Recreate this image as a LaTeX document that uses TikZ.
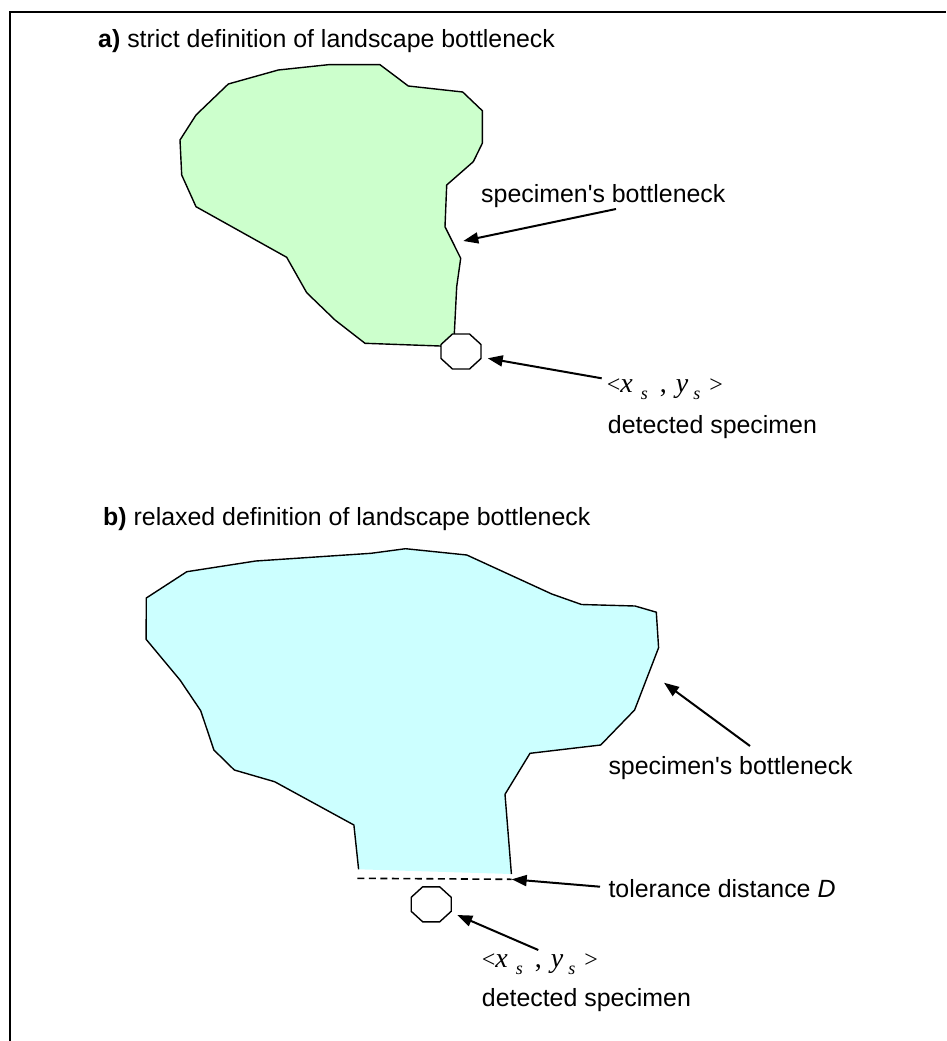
\documentclass[tikz,border=0pt]{standalone}
\usepackage{fontspec}
\setmainfont{Liberation Sans}
\newfontfamily\tnr{Liberation Serif}
\usetikzlibrary{arrows.meta}

\definecolor{areagreen}{RGB}{204,255,204}
\definecolor{areacyan}{RGB}{204,255,255}

\tikzset{
  lbl/.style={anchor=base west, inner sep=0pt, font=\fontsize{24.9pt}{30pt}\selectfont},
  outline/.style={line width=1.4pt, line join=miter},
  frameline/.style={line width=2pt},
  pointer/.style={line width=2pt, -{Triangle[length=15pt,width=11pt]}},
  octo/.pic={\draw[outline, fill=white] (-8.5,-17.5) -- (8.5,-17.5) -- (20,-7) -- (20,7)
               -- (8.5,17.5) -- (-8.5,17.5) -- (-20,7) -- (-20,-7) -- cycle;}
}

% position label <x_s , y_s> in Times
\newcommand\subs{\raisebox{-7pt}{\fontsize{18pt}{18pt}\selectfont\textit{s}}}
\newcommand\angl[1]{{\fontsize{24pt}{24pt}\selectfont #1}}
\newcommand\specpos{{\tnr\fontsize{28pt}{30pt}\selectfont
  \angl{\textless}\textit{x}\kern8pt\subs\kern12pt,\kern9pt\textit{y}\kern5pt\subs\kern9pt\angl{\textgreater}}}
\newcommand\bneck{specimen\textquotesingle s bottleneck}

\begin{document}
\begin{tikzpicture}[x=1pt,y=-1pt]
\useasboundingbox (0,0) rectangle (946,1041);

% open frame: top and left rules only
\draw[frameline] (9.5,1041) -- (9.5,12) -- (946,12);

% ---------- a) strict definition ----------
\node[lbl] (titleA) at (98,48) {\textbf{a)} strict definition of landscape bottleneck};

\filldraw[outline, fill=areagreen]
  (328.3,64.7) -- (380,64.7) -- (408.3,86) -- (462.7,92) -- (482.3,110.7) -- (482.3,143.3)
  -- (473.3,161.7) -- (446.7,185) -- (445,226.7) -- (460.7,258.3) -- (456.7,286.7)
  -- (454.3,334) -- (455,348) -- (440,346) -- (365,343.3) -- (335,320) -- (306.7,292.7)
  -- (286.7,257.3) -- (196,206.7) -- (181.7,175) -- (180,140) -- (196,115) -- (228.3,84)
  -- (278.3,70) -- cycle;

\pic at (461,351.5) {octo};
\coordinate (specA) at (487.7,358.3);
\coordinate (neckA) at (463.3,241);

\node[lbl] (neckLabelA) at (481,202) {\bneck};
\node[lbl] (posA) at (606.7,392.7) {\specpos};
\node[lbl] (detA) at (607.7,433) {detected specimen};

\coordinate (neckTailA) at (616,209);
\coordinate (specTailA) at (601.7,378.3);
\draw[pointer] (neckTailA) -- (neckA);
\draw[pointer] (specTailA) -- (specA);

% ---------- b) relaxed definition ----------
\node[lbl] (titleB) at (103,525) {\textbf{b)} relaxed definition of landscape bottleneck};

\fill[areacyan]
  (358.6,869.3) -- (353.9,825) -- (274.6,781.7) -- (234.3,770) -- (213.9,750) -- (200.7,710.7)
  -- (180,680) -- (146.1,639.3) -- (146.3,598) -- (186.8,571.7) -- (255.7,561) -- (371,553.3)
  -- (405.5,548.7) -- (466.8,555) -- (551.8,594) -- (581.5,604.5) -- (635,606) -- (656.3,612.2)
  -- (658.6,647.7) -- (634.6,710) -- (600.7,745) -- (530,753.3) -- (505,794.3) -- (511.4,874) -- cycle;
\draw[outline]
  (358.6,869.3) -- (353.9,825) -- (274.6,781.7) -- (234.3,770) -- (213.9,750) -- (200.7,710.7)
  -- (180,680) -- (146.1,639.3) -- (146.3,598) -- (186.8,571.7) -- (255.7,561) -- (371,553.3)
  -- (405.5,548.7) -- (466.8,555) -- (551.8,594) -- (581.5,604.5) -- (635,606) -- (656.3,612.2)
  -- (658.6,647.7) -- (634.6,710) -- (600.7,745) -- (530,753.3) -- (505,794.3) -- (511.4,874);

\coordinate (tolL) at (357.3,878.3);
\coordinate (tolR) at (511.7,879.3);
\draw[line width=1.6pt, dash pattern=on 7pt off 4.5pt] (tolL) -- (tolR);

\pic at (431.2,904.3) {octo};
\coordinate (specB) at (457.3,915);
\coordinate (neckB) at (664,682.7);

\node[lbl] (neckLabelB) at (608.3,774) {\bneck};
\node[lbl] (tolLabel) at (608.3,897) {tolerance distance \textit{D}};
\node[lbl] (posB) at (481.7,967) {\specpos};
\node[lbl] (detB) at (481.7,1006) {detected specimen};

\coordinate (neckTailB) at (750,746);
\coordinate (tolTail) at (600,886.7);
\coordinate (specTailB) at (538.3,950);
\draw[pointer] (neckTailB) -- (neckB);
\draw[pointer] (tolTail) -- (tolR);
\draw[pointer] (specTailB) -- (specB);
\end{tikzpicture}
\end{document}
